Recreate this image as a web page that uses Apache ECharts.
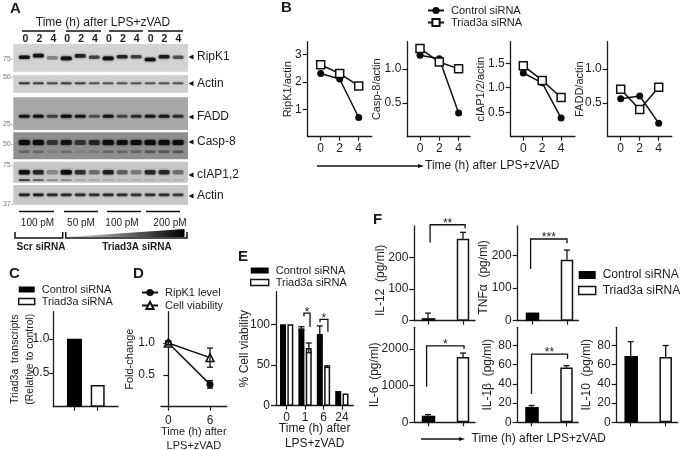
<!DOCTYPE html>
<html>
<head>
<meta charset="utf-8">
<style>
  html, body { margin: 0; padding: 0; background: #fff; }
  #main { width: 685px; height: 450px; }
</style>
<script src="https://cdn.jsdelivr.net/npm/echarts@6/dist/echarts.min.js"></script>
</head>
<body>
<div id="main"></div>
<script>
// panel A, band darkness per lane
var ripk1Bands = [.9, .9, .35, .95, .8, .6, .95, .8, .65, .95, .85, .55];
var ripk1BandY = [.48, .42, .5, .52, .43, .48, .52, .46, .46, .56, .46, .48];
var actinBands = [.7, .65, .6, .65, .65, .55, .55, .55, .55, .55, .55, .55];
var faddBands = [.85, .9, .6, 1, .85, .5, .85, .55, .7, .85, .85, .7];
var casp8Bands = [1, 1, .6, .85, .6, .7, 1, .9, .95, 1, 1, .95];
var casp8Lower = [.3, .3, .1, .25, .1, .15, .3, .3, .3, .4, .4, .4];
var ciapBands = [.9, .75, .3, 1, .7, .4, .8, .45, .35, .75, .75, .4];
var ciapLower = [.7, .5, .3, .3, .15, .15, .15, .1, .1, .1, .1, .1];
var actin2Bands = [.8, .8, .75, .75, .75, .7, .75, .7, .7, .7, .7, .65];

// panel B
var timeB = [0, 2, 4];
var ripk1Control = [2.3, 2.1, 0.7];
var ripk1Triad = [2.62, 2.3, 1.85];
var casp8Control = [1.2, 1.15, 0.35];
var casp8Triad = [1.3, 1.1, 1.0];
var ciapControl = [1.3, 1.1, 0.38];
var ciapTriad = [1.45, 1.15, 0.8];
var faddControl = [0.56, 0.6, 0.2];
var faddTriad = [0.7, 0.4, 0.73];

// panel C
var transcripts = [1.0, 0.32];

// panel D
var timeD = [0, 6];
var ripk1Level = [1.0, 0.35];
var ripk1LevelErr = [0.03, 0.06];
var cellViability = [1.0, 0.77];
var cellViabilityErr = [0.03, 0.15];

// panel E
var timeE = ['0', '1', '6', '24'];
var viabilityControl = [100, 95, 88, 18];
var viabilityControlErr = [0, 2, 10, 0];
var viabilityTriad = [100, 71, 48, 15];
var viabilityTriadErr = [0, 6, 1, 0];
var bracketsE = [[.94, 1.27, 113.6, 110, 96.8, '*'], [1.81, 2.24, 106, 102.6, 90.7, '*']];

// panel F, control then triad
var il12 = [8, 260];
var il12Err = [16, 20];
var tnf = [25, 187];
var tnfErr = [0, 30];
var il6 = [180, 1780];
var il6Err = [30, 110];
var il1b = [16, 57];
var il1bErr = [1.5, 2];
var il10 = [69, 68];
var il10Err = [15, 12];
var bracketIl12 = [[.06, 1.06, 304, 248, 293, '**']];
var bracketTnf = [[-.04, 1.0, 251, 159, 238, '***']];
var bracketIl6 = [[-.04, 1.03, 2085, 973, 2000, '*']];
var bracketIl1b = [[.0, 1.03, 71, 29.5, 66, '**']];

var FONT = '"Liberation Sans", Arial, sans-serif';
var INK = '#1c1c1c';

var grids = [], xAxes = [], yAxes = [], series = [], graphics = [];

function addGrid(left, top, right, bottom, bg) {
  var g = { left: left, top: top, width: right - left, height: bottom - top, containLabel: false, outerBoundsMode: 'none' };
  if (bg) { g.show = true; g.backgroundColor = bg; g.borderWidth = 0; }
  grids.push(g);
  return grids.length - 1;
}

function lineAxis() {
  return { show: true, onZero: false, lineStyle: { color: INK, width: 1.3 } };
}

function addX(idx, min, max, ticks, opts) {
  opts = opts || {};
  xAxes.push({
    type: 'value', gridIndex: idx, min: min, max: max, splitLine: { show: false },
    axisLine: lineAxis(),
    axisTick: { show: true, customValues: ticks, length: 4, lineStyle: { color: INK, width: 1.2 } },
    axisLabel: {
      show: !opts.noLabel, customValues: ticks, margin: opts.margin || 6, fontSize: 12, fontFamily: FONT, color: INK,
      formatter: opts.formatter || function (v) { return String(v); }
    },
    name: opts.name, nameLocation: 'middle', nameGap: opts.nameGap, nameMoveOverlap: false,
    nameTextStyle: { fontSize: opts.nameSize || 12, fontFamily: FONT, color: INK, lineHeight: opts.nameLine || 14 }
  });
}

function addY(idx, min, max, ticks, decimals, name, gap, nameSize, shift) {
  yAxes.push({
    type: 'value', gridIndex: idx, min: min, max: max, splitLine: { show: false },
    axisLine: lineAxis(),
    axisTick: { show: true, customValues: ticks, length: 5, lineStyle: { color: INK, width: 1.2 } },
    axisLabel: {
      customValues: ticks, margin: 6, fontSize: 12, fontFamily: FONT, color: INK,
      formatter: function (v) { return v.toFixed(decimals); }
    },
    name: name, nameLocation: 'middle', nameGap: gap, nameRotate: 90, nameMoveOverlap: false,
    nameTextStyle: {
      fontSize: nameSize || 11, fontFamily: FONT, color: INK, lineHeight: 14,
      padding: shift ? [0, shift * 2, 0, 0] : 0
    }
  });
}

function pairs(xs, ys) {
  return xs.map(function (x, i) { return [x, ys[i]]; });
}

function addLine(idx, name, xs, ys, symbol, size) {
  var hollow = symbol !== 'circle';
  series.push({
    type: 'line', name: name, xAxisIndex: idx, yAxisIndex: idx, data: pairs(xs, ys), clip: false,
    symbol: symbol, symbolSize: size, z: hollow ? 4 : 3,
    lineStyle: { color: '#111', width: 1.5 },
    itemStyle: hollow ? { color: '#fff', borderColor: '#111', borderWidth: 1.5, opacity: 1 } : { color: '#0a0a0a' }
  });
}

function addBar(idx, name, xs, ys, width, color, gap) {
  series.push({
    type: 'bar', name: name, xAxisIndex: idx, yAxisIndex: idx, data: pairs(xs, ys), barWidth: width, barGap: gap,
    itemStyle: { color: color, borderColor: '#111', borderWidth: color === '#fff' ? 1.5 : 0 }
  });
}

// up-only or both-way error bars, dx is the bar's pixel offset in its group
function addErrors(idx, xs, ys, errs, dx, both) {
  series.push({
    type: 'custom', xAxisIndex: idx, yAxisIndex: idx, z: 5, silent: true, clip: false,
    data: xs.map(function (x, i) { return [x, ys[i], errs[i]]; }),
    encode: { x: 0, y: 1 },
    renderItem: function (params, api) {
      var e = api.value(2);
      if (!e) return null;
      var hi = api.coord([api.value(0), api.value(1) + e]);
      var lo = api.coord([api.value(0), api.value(1) - (both ? e : 0)]);
      var x = hi[0] + dx, cap = 3;
      var st = { stroke: '#111', lineWidth: 1.3 };
      var kids = [
        { type: 'line', shape: { x1: x, y1: hi[1], x2: x, y2: lo[1] }, style: st },
        { type: 'line', shape: { x1: x - cap, y1: hi[1], x2: x + cap, y2: hi[1] }, style: st }
      ];
      if (both) kids.push({ type: 'line', shape: { x1: x - cap, y1: lo[1], x2: x + cap, y2: lo[1] }, style: st });
      return { type: 'group', children: kids };
    }
  });
}

function addBrackets(idx, rows) {
  series.push({
    type: 'custom', xAxisIndex: idx, yAxisIndex: idx, z: 6, silent: true, clip: false,
    data: rows.map(function (r) { return r.slice(0, 5); }),
    encode: { x: 0, y: 2 },
    renderItem: function (params, api) {
      var a = api.coord([api.value(0), api.value(2)]);
      var b = api.coord([api.value(1), api.value(2)]);
      var l = api.coord([api.value(0), api.value(3)]);
      var r = api.coord([api.value(1), api.value(4)]);
      return {
        type: 'group',
        children: [
          { type: 'polyline', shape: { points: [[l[0], l[1]], [a[0], a[1]], [b[0], b[1]], [r[0], r[1]]] }, style: { stroke: '#111', lineWidth: 1.3, fill: null } },
          { type: 'text', style: { text: rows[params.dataIndex][5], x: (a[0] + b[0]) / 2, y: a[1] + 5, align: 'center', verticalAlign: 'bottom', font: '12px ' + FONT, fill: INK } }
        ]
      };
    }
  });
}

// blot strips
function addBlot(top, bottom, bg, bands, ys, bandH) {
  var idx = addGrid(13.3, top, 188, bottom, bg);
  xAxes.push({ type: 'value', gridIndex: idx, min: -0.79, max: 11.71, show: false });
  yAxes.push({ type: 'value', gridIndex: idx, min: 0, max: 1, inverse: true, show: false });
  addBands(idx, bands, ys, bandH);
  return idx;
}

function addBands(idx, bands, ys, bandH) {
  series.push({
    type: 'custom', xAxisIndex: idx, yAxisIndex: idx, silent: true,
    data: bands.map(function (d, i) { return [i, ys[i], d]; }),
    encode: { x: 0, y: 1 },
    renderItem: function (params, api) {
      var c = api.coord([api.value(0), api.value(1)]);
      var col = 'rgba(12,12,12,' + api.value(2) + ')';
      return {
        type: 'rect',
        shape: { x: c[0] - 5.5, y: c[1] - bandH / 2, width: 11, height: bandH, r: 1.5 },
        style: { fill: col, shadowBlur: 2.5, shadowColor: col }
      };
    }
  });
}

function same(v) {
  return ripk1Bands.map(function () { return v; });
}

var id;
addBlot(44, 71.7, '#d3d3d3', ripk1Bands, ripk1BandY, 3.6);
addBlot(75, 92.7, '#cfcfcf', actinBands, same(.46), 2);
addBlot(97.3, 130, '#a8a8a8', faddBands, same(.58), 3);
id = addBlot(132.3, 159.3, '#8f8f8f', casp8Bands, same(.38), 5);
addBands(id, casp8Lower, same(.72), 2.5);
id = addBlot(161.7, 182.7, '#c6c6c6', ciapBands, same(.5), 4.5);
addBands(id, ciapLower, same(.88), 1.8);
addBlot(185, 204.7, '#c8c8c8', actin2Bands, same(.5), 2.6);

// panel B
function panelB(left, right, zero, two, yMax, ticks, decimals, name, gap, control, triad) {
  var unit = (two - zero) / 2;
  var idx = addGrid(left, 41.7, right, 136.7);
  addX(idx, (left - zero) / unit, (right - zero) / unit, timeB);
  addY(idx, 0, yMax, ticks, decimals, name, gap);
  addLine(idx, 'Control siRNA', timeB, control, 'circle', 7);
  addLine(idx, 'Triad3a siRNA', timeB, triad, 'rect', 8);
}
panelB(307.7, 371.7, 320.7, 339.7, 3.46, [1, 2, 3], 0, 'RipK1/actin', 13, ripk1Control, ripk1Triad);
panelB(407.3, 470, 420, 439.3, 1.4, [0.5, 1.0], 1, 'Casp-8/actin', 23, casp8Control, casp8Triad);
panelB(510.7, 575, 523.3, 542.2, 1.94, [0.5, 1.0, 1.5], 1, 'cIAP1/2/actin', 23, ciapControl, ciapTriad);
panelB(607.7, 671.7, 620.7, 639.7, 1.4, [0.5, 1.0], 1, 'FADD/actin', 21, faddControl, faddTriad);

// panel C
id = addGrid(53.3, 311.7, 118, 406.7);
addX(id, -0.873, 1.857, [0, 1], { noLabel: true });
addY(id, 0, 1.4, [0.5, 1.0], 1, 'Triad3a  transcripts\n(Relative to control)', 16, 10.5);
yAxes[yAxes.length - 1].axisLabel.margin = 4;
yAxes[yAxes.length - 1].axisTick.length = 4;
yAxes[yAxes.length - 1].nameTextStyle.lineHeight = 15;
addBar(id, 'Control siRNA bars', [0], [transcripts[0]], 15, '#000', '-100%');
addBar(id, 'Triad3a siRNA bars', [1], [transcripts[1]], 14, '#fff', '-100%');

// panel D
id = addGrid(161, 311.7, 226.7, 406.7);
addX(id, -1.05, 8.4, timeD, { name: 'Time (h) after\nLPS+zVAD', nameGap: 18, nameSize: 11, margin: 8 });
addY(id, 0, 1.49, [0.5, 1.0], 1, 'Fold-change', 24.5, 11);
yAxes[yAxes.length - 1].axisLine.onZero = true;
addErrors(id, timeD, ripk1Level, ripk1LevelErr, 0, true);
addErrors(id, timeD, cellViability, cellViabilityErr, 0, true);
addLine(id, 'RipK1 level', timeD, ripk1Level, 'circle', 7);
addLine(id, 'Cell viability', timeD, cellViability, 'triangle', 8);

// panel E
var slotsE = timeE.map(function (t, i) { return i; });
id = addGrid(276, 291.7, 353.3, 405.7);
addX(id, -0.58, 3.62, slotsE, {
  formatter: function (v) { return timeE[v]; }, name: 'Time (h) after\nLPS+zVAD', nameGap: 15, nameLine: 15, margin: 6
});
addY(id, 0, 140, [0, 50, 100], 0, '% Cell viability', 24, 12);
addBar(id, 'Control siRNA bars', slotsE, viabilityControl, 6, '#000', '22%');
addBar(id, 'Triad3a siRNA bars', slotsE, viabilityTriad, 6, '#fff', '22%');
addErrors(id, slotsE, viabilityControl, viabilityControlErr, -3.7, true);
addErrors(id, slotsE, viabilityTriad, viabilityTriadErr, 3.7, true);
addBrackets(id, bracketsE);

// panel F
function panelF(left, right, top, bottom, zero, one, yMax, ticks, name, gap, shift, vals, errs, brackets) {
  var unit = one - zero, slots = [0, 1];
  var idx = addGrid(left, top, right, bottom);
  addX(idx, (left - zero) / unit, (right - zero) / unit, slots, { noLabel: true });
  addY(idx, 0, yMax, ticks, 0, name, gap, 12, shift);
  addBar(idx, 'Control siRNA bars', [0], [vals[0]], 13.5, '#000', '-100%');
  addBar(idx, 'Triad3a siRNA bars', [1], [vals[1]], 12.5, '#fff', '-100%');
  addErrors(idx, slots, vals, errs, 0, false);
  if (brackets) addBrackets(idx, brackets);
}
panelF(414.3, 475, 226, 320.7, 428, 463, 300, [0, 100, 200], 'IL-12  (pg/ml)', 27, 7, il12, il12Err, bracketIl12);
panelF(517.7, 578.3, 226, 320.7, 532, 567, 291, [0, 100, 200], 'TNFα  (pg/ml)', 27, 4, tnf, tnfErr, bracketTnf);
panelF(414.3, 475, 327.3, 422.3, 428, 463, 2593, [0, 1000, 2000], 'IL-6  (pg/ml)', 33, 0, il6, il6Err, bracketIl6);
panelF(517.7, 578.3, 327.3, 422.3, 531.5, 566.5, 99, [0, 20, 40, 60, 80], 'IL-1β  (pg/ml)', 23, 0, il1b, il1bErr, bracketIl1b);
panelF(616.7, 677.7, 327.3, 422.3, 630.7, 665.7, 99, [0, 20, 40, 60, 80], 'IL-10  (pg/ml)', 23, 0, il10, il10Err, null);

// legends
function lineLegend(names, left, top, gap) {
  return {
    data: names, left: left, top: top, orient: 'vertical', itemWidth: 16, itemHeight: 9, itemGap: gap,
    selectedMode: false, padding: 0, textStyle: { fontSize: 11, fontFamily: FONT, color: INK, padding: [0, 0, 0, 2] }
  };
}
function barLegend(left, top, w, h, gap, size) {
  return {
    data: [
      { name: 'Control siRNA bars', icon: 'rect', itemStyle: { color: '#000', borderWidth: 0 } },
      { name: 'Triad3a siRNA bars', icon: 'rect', itemStyle: { color: '#fff', borderColor: '#111', borderWidth: 1.4 } }
    ],
    formatter: function (n) { return n.replace(' bars', ''); },
    left: left, top: top, orient: 'vertical', itemWidth: w, itemHeight: h, itemGap: gap,
    selectedMode: false, padding: 0, textStyle: { fontSize: size || 11, fontFamily: FONT, color: INK, padding: [0, 0, 0, 2] }
  };
}
var legends = [
  lineLegend(['Control siRNA', 'Triad3a siRNA'], 427, 5, 1),
  barLegend(18, 284, 16, 6, 1),
  lineLegend(['RipK1 level', 'Cell viability'], 141, 287, 2),
  barLegend(250, 265, 18, 6, 1),
  barLegend(578, 269, 17, 8, 3.5, 12)
];

// labels and annotation
function txt(s, x, y, size, o) {
  o = o || {};
  graphics.push({
    type: 'text', rotation: o.rotation || 0, x: x, y: y, silent: true,
    style: {
      text: s, align: o.align || 'left', verticalAlign: 'middle',
      font: (o.bold ? 'bold ' : '') + size + 'px ' + FONT, fill: o.fill || INK
    }
  });
}
function seg(x1, y1, x2, y2, w) {
  graphics.push({ type: 'line', silent: true, shape: { x1: x1, y1: y1, x2: x2, y2: y2 }, style: { stroke: '#111', lineWidth: w || 1.3 } });
}
function tri(pts, fill) {
  graphics.push({ type: 'polygon', silent: true, shape: { points: pts }, style: { fill: fill || '#111' } });
}

txt('A', 10, 9, 15, { bold: true });
txt('B', 281, 8, 15, { bold: true });
txt('C', 9, 274, 15, { bold: true });
txt('D', 133, 274, 15, { bold: true });
txt('E', 238, 257, 15, { bold: true });
txt('F', 373, 220, 15, { bold: true });

txt('Time (h) after LPS+zVAD', 103, 23, 12, { align: 'center' });
[[22, 55], [66, 101], [109, 143], [148, 183]].forEach(function (s) { seg(s[0], 31, s[1], 31, 1.5); });
['0', '2', '4', '0', '2', '4', '0', '2', '4', '0', '2', '4'].forEach(function (t, i) {
  txt(t, 25.5 + i * 13.9, 39.5, 10.5, { align: 'center', bold: true });
});
[['RipK1', 57], ['Actin', 83.5], ['FADD', 117], ['Casp-8', 142], ['cIAP1,2', 175], ['Actin', 196]].forEach(function (r) {
  txt(r[0], 197, r[1], 12);
  tri([[188.5, r[1]], [193.5, r[1] - 2.5], [193.5, r[1] + 2.5]]);
});
[['75-', 59], ['50-', 77], ['25-', 124], ['50-', 144], ['75-', 165], ['37-', 204]].forEach(function (r) {
  txt(r[0], 13, r[1], 7, { align: 'right', fill: '#777' });
});
[[19, 54], [64, 98], [107, 141], [146, 180]].forEach(function (s) { seg(s[0], 211.5, s[1], 211.5, 1.5); });
txt('100 pM', 37.5, 223, 10, { align: 'center' });
txt('50 pM', 81, 223, 10, { align: 'center' });
txt('100 pM', 122, 223, 10, { align: 'center' });
txt('200 pM', 170, 223, 10, { align: 'center' });
graphics.push({
  type: 'polygon', silent: true, shape: { points: [[67, 237], [184.5, 229], [184.5, 237]] },
  style: { fill: { type: 'linear', x: 0, y: 0, x2: 1, y2: 0, colorStops: [{ offset: 0, color: '#ddd' }, { offset: 1, color: '#000' }] } }
});
graphics.push({ type: 'polyline', silent: true, shape: { points: [[15, 232], [15, 238], [62.7, 238], [62.7, 232]] }, style: { stroke: '#111', lineWidth: 1.5, fill: null } });
graphics.push({ type: 'polyline', silent: true, shape: { points: [[65.7, 232], [65.7, 238], [187, 238], [187, 232]] }, style: { stroke: '#111', lineWidth: 1.5, fill: null } });
txt('Scr siRNA', 41, 247, 10, { align: 'center', bold: true });
txt('Triad3A siRNA', 137, 247, 10, { align: 'center', bold: true });

// time arrows
seg(317, 166, 421, 166, 1.4);
tri([[424, 166], [418, 164], [418, 168]]);
txt('Time (h) after LPS+zVAD', 425, 166, 12);
seg(421, 439, 462, 439, 1.4);
tri([[465, 439], [459, 437], [459, 441]]);
txt('Time (h) after LPS+zVAD', 471.5, 439, 12);

var myChart = echarts.init(document.getElementById('main'), null, { renderer: 'canvas' });
myChart.setOption({
  animation: false,
  backgroundColor: '#fff',
  textStyle: { fontFamily: FONT },
  tooltip: { show: false },
  legend: legends,
  grid: grids,
  xAxis: xAxes,
  yAxis: yAxes,
  series: series,
  graphic: { elements: graphics }
});
</script>
</body>
</html>
